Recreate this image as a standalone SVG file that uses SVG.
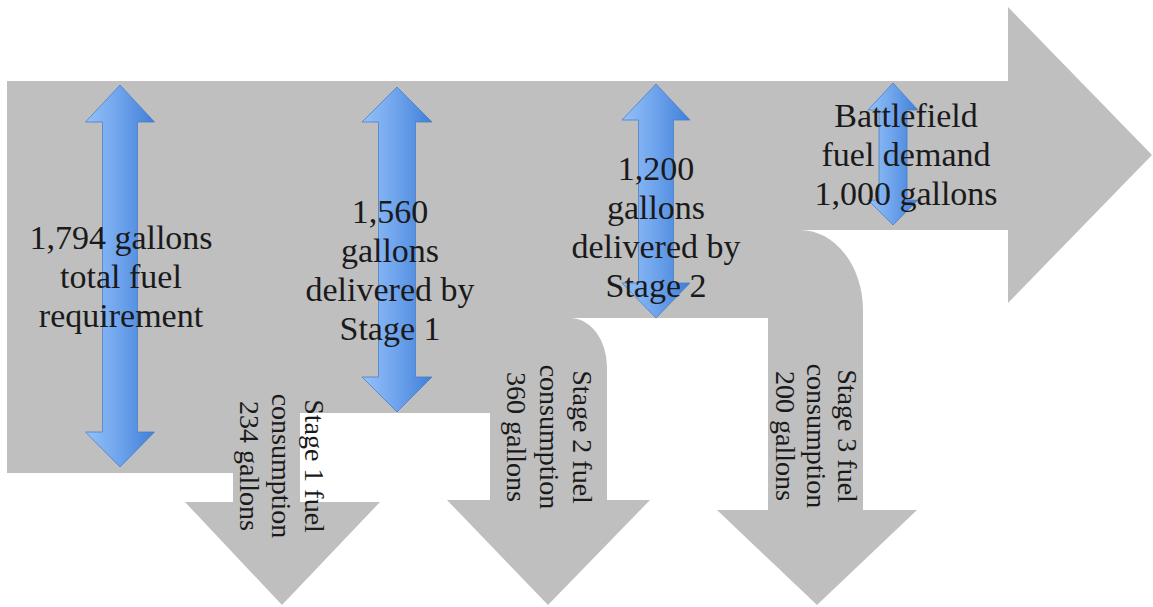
<svg xmlns="http://www.w3.org/2000/svg" width="1153" height="607" viewBox="0 0 1153 607">
<defs>
<linearGradient id="blueGrad" x1="0" y1="0" x2="1" y2="0">
<stop offset="0" stop-color="#94c1f8"/>
<stop offset="0.5" stop-color="#6ea3ec"/>
<stop offset="1" stop-color="#3f7fd8"/>
</linearGradient>
<style>
.flow{fill:#bfbfbf;stroke:none}
.dbl{fill:url(#blueGrad);stroke:#4a7fc8;stroke-width:0.8}
.lbl{font-family:"Liberation Serif","Times New Roman",serif;font-size:34px;fill:#1a1a1a;text-anchor:middle}
.vlbl{font-family:"Liberation Serif","Times New Roman",serif;font-size:28px;fill:#1a1a1a;text-anchor:middle}
</style>
</defs>
<rect width="1153" height="607" fill="#ffffff"/>
<g id="connectors">
<path class="flow" d="M7,81 L1008,81 L1008,7 L1152,155 L1008,303 L1008,230 L800,230 A63,80 0 0 1 863,310 L863,510 L917,510 L817,605 L717,510 L768,510 L768,318 L570,318 A37,49 0 0 1 607,367 L607,500 L650,500 L548,605 L447,500 L490,500 L490,413 L300,413 L300,502 L380,502 L282,605 L185,502 L233,502 L233,473 L7,473 Z"/>
</g>
<g id="node-total">
<path class="dbl" d="M120,85 L154.5,122 L137.5,122 L137.5,432 L154.5,432 L120,467 L85.5,432 L102.5,432 L102.5,122 L85.5,122 Z"/>
<text class="lbl" x="121" y="249">1,794 gallons</text>
<text class="lbl" x="121" y="288">total fuel</text>
<text class="lbl" x="121" y="327">requirement</text>
</g>
<g id="node-stage1">
<path class="dbl" d="M397,87 L432,122 L415.5,122 L415.5,377 L432,377 L397,412 L362,377 L378.5,377 L378.5,122 L362,122 Z"/>
<text class="lbl" x="390" y="223">1,560</text>
<text class="lbl" x="390" y="262">gallons</text>
<text class="lbl" x="390" y="301">delivered by</text>
<text class="lbl" x="390" y="340">Stage 1</text>
</g>
<g id="node-stage2">
<path class="dbl" d="M656,84 L690,120 L673.5,120 L673.5,283 L690,283 L656,318 L622,283 L638.5,283 L638.5,120 L622,120 Z"/>
<text class="lbl" x="656" y="180">1,200</text>
<text class="lbl" x="656" y="219">gallons</text>
<text class="lbl" x="656" y="258">delivered by</text>
<text class="lbl" x="656" y="297">Stage 2</text>
</g>
<g id="node-battlefield">
<path class="dbl" d="M893,83 L918,110 L907,110 L907,200 L918,200 L893,225 L868,200 L879,200 L879,110 L868,110 Z"/>
<text class="lbl" x="906" y="127">Battlefield</text>
<text class="lbl" x="906" y="166">fuel demand</text>
<text class="lbl" x="906" y="205">1,000 gallons</text>
</g>
<g id="node-consumption1" transform="translate(0,466) rotate(90)">
<text class="vlbl" x="0" y="-305">Stage 1 fuel</text>
<text class="vlbl" x="0" y="-272">consumption</text>
<text class="vlbl" x="0" y="-240">234 gallons</text>
</g>
<g id="node-consumption2" transform="translate(0,437) rotate(90)">
<text class="vlbl" x="0" y="-573">Stage 2 fuel</text>
<text class="vlbl" x="0" y="-540">consumption</text>
<text class="vlbl" x="0" y="-507">360 gallons</text>
</g>
<g id="node-consumption3" transform="translate(0,436) rotate(90)">
<text class="vlbl" x="0" y="-838">Stage 3 fuel</text>
<text class="vlbl" x="0" y="-807">consumption</text>
<text class="vlbl" x="0" y="-776">200 gallons</text>
</g>
</svg>
